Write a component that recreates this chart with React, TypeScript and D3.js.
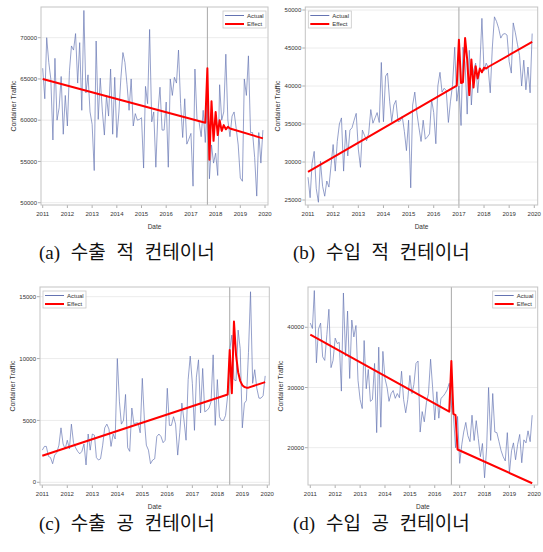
import * as d3 from "d3";

// monthly container traffic, Jan 2011 .. Dec 2019
const exportLaden = [
  66300, 62600, 70000, 67000, 65000, 57600, 67500, 60000, 61500, 65300, 58300, 63000,
  59300, 66000, 69000, 68500, 70500, 64500, 69400, 61200, 73300, 63300, 65500, 61000,
  59500, 53900, 69600, 60100, 65100, 61100, 58200, 63000, 60500, 66200, 58300, 65200,
  57900, 61000, 65000, 68200, 67000, 64300, 61200, 65000, 59300, 60800, 60000, 60100,
  60300, 54200, 64100, 62000, 71000, 59800, 61000, 54300, 61000, 64000, 58800, 58800,
  62200, 54300, 65000, 63000, 65200, 64500, 68500, 62000, 57900, 62600, 57100, 57700,
  58400, 52000, 66200, 60000, 59800, 58000, 61200, 57300, 62500, 52900, 57000, 54800,
  56000, 53300, 64300, 60000, 61000, 68000, 60000, 58000, 60500, 61000, 59000, 57000,
  53000, 52600, 65000, 63000, 67800, 58500, 58500, 55500, 50800, 58500, 54800, 58800,
];

const importLaden = [
  28000, 25300, 29800, 31400, 26500, 24700, 30100, 26800, 25500, 27500, 26700, 29500,
  32300, 28800, 32700, 35000, 35800, 28800, 34200, 30800, 34200, 34500, 35500, 36400,
  31700, 29300, 34200, 33500, 32800, 33800, 36900, 35100, 35800, 36500, 35200, 43100,
  35300, 41300, 41700, 38000, 35300, 37500, 38100, 35300, 35400, 36000, 34000, 31500,
  35500, 26600, 37500, 39200, 36500, 34500, 32700, 35500, 33000, 33300, 33700, 38200,
  36500, 32400, 40000, 41800, 39200, 39700, 39400, 35200, 38000, 40200, 45100, 38000,
  40000, 34800, 45100, 43000, 36300, 44700, 37500, 42000, 43000, 39100, 42500, 48900,
  42000, 43000, 42500, 39100, 45000, 49100, 48500, 47600, 46300, 46800, 46900, 46700,
  43200, 41700, 48300, 47000, 45500, 44000, 40000, 43400, 39500, 42500, 39100, 46900,
];

const exportEmpty = [
  2600, 2900, 2900, 2100, 2000, 1500, 2200, 2400, 3000, 4400, 3100, 2700,
  3400, 2700, 4700, 3200, 2800, 2500, 2300, 2500, 3100, 1400, 3900, 2600,
  3900, 3800, 2000, 1800, 1900, 3000, 4400, 4700, 4300, 2900, 3900, 3500,
  10000, 6500, 4700, 5000, 7100, 2800, 2500, 6000, 4700, 4800, 4800, 4000,
  8400, 5000, 3000, 2600, 1500, 1800, 1900, 3700, 3900, 3700, 3200, 3400,
  7600, 4600, 4600, 5300, 4700, 2200, 4000, 6400, 5000, 3400, 8300, 10200,
  8000, 4200, 8500, 9900, 5600, 9200, 5700, 5800, 6000, 6500, 10300, 4600,
  8300, 5300, 5000, 5000, 5400, 7000, 10700, 11900, 8300, 8200, 12300, 10800,
  4400, 6400, 6600, 10500, 15400, 8000, 9100, 7600, 6800, 6800, 7000, 8600,
];

const importEmpty = [
  40700, 39800, 46100, 34100, 39700, 40700, 35100, 34500, 38800, 43000, 33300, 34500,
  38200, 37300, 37500, 29400, 45700, 35200, 42700, 31500, 41200, 38400, 40300, 31200,
  28000, 26500, 37800, 29800, 33000, 27700, 28000, 34000, 22500, 36700, 23400, 36000,
  31500, 30000, 27700, 29000, 29500, 28200, 29000, 28300, 32700, 28000, 25800, 28000,
  32000, 29000, 30500, 34000, 34400, 22600, 26000, 24300, 27500, 29000, 34700, 30000,
  24600, 29300, 24900, 28200, 28500, 29000, 29600, 30700, 27000, 25400, 20000, 25200,
  17400, 20500, 22600, 24200, 22000, 21000, 25400, 21200, 24500, 21500, 18500, 20700,
  15000, 20000, 30000, 21200, 29000, 22600, 22500, 21000, 19500, 18500, 17800, 22500,
  15800, 19500, 20800, 18000, 20500, 22200, 17500, 21300, 20800, 22800, 21000, 25400,
];

// intervention effect, as month index (0 = Jan 2011) and value
const effectAMonths = [0, 79, 80, 81, 82, 83, 84, 85, 86, 87, 88, 89, 90, 91, 107];
const effectAValues = [65000, 59700, 66300, 55200, 62300, 57500, 61000, 58200, 60000, 58700, 59400, 58900, 59200, 59000, 57800];
const effectBMonths = [0, 71, 72, 73, 74, 75, 76, 77, 78, 79, 80, 81, 82, 83, 84, 85, 86, 107];
const effectBValues = [28700, 40050, 46100, 40400, 40500, 46300, 43500, 38800, 43500, 39800, 42600, 41000, 42300, 41800, 42400, 42300, 42500, 45800];
const effectCMonths = [0, 89, 90, 91, 92, 93, 94, 95, 96, 97, 98, 99, 107];
const effectCValues = [2150, 7100, 10700, 7200, 13000, 10300, 8900, 8200, 7850, 7700, 7650, 7650, 8100];
const effectDMonths = [0, 67, 68, 69, 70, 71, 107];
const effectDValues = [38800, 26000, 34400, 25600, 25400, 19700, 14100];

const yearTicks = [2011, 2012, 2013, 2014, 2015, 2016, 2017, 2018, 2019, 2020];
const ticksA = [50000, 55000, 60000, 65000, 70000];
const ticksB = [25000, 30000, 35000, 40000, 45000, 50000];
const ticksC = [0, 5000, 10000, 15000];
const ticksD = [20000, 30000, 40000];
const legendLabels = ["Actual", "Effect"];
const captions = ["(a) 수출 적 컨테이너", "(b) 수입 적 컨테이너", "(c) 수출 공 컨테이너", "(d) 수입 공 컨테이너"];

const font = '"Liberation Sans", Arial, sans-serif';
const actualColor = "#6473b2";
const effectColor = "#ff0000";

const monthDate = (i: number) => new Date(2011, i, 1);

interface PanelSpec {
  actual: number[];
  effMonths: number[];
  effValues: number[];
  intervention: number;
  yTicks: number[];
  yDomain: [number, number];
  yRange: [number, number];
  xRange: [number, number];
  frame: { l: number; r: number; t: number; b: number };
  legendRight: boolean;
}

const panels: PanelSpec[] = [
  {
    actual: exportLaden, effMonths: effectAMonths, effValues: effectAValues, intervention: 80,
    yTicks: ticksA, yDomain: [50000, 70000], yRange: [202.7, 37.7], xRange: [42.7, 265],
    frame: { l: 41, r: 268, t: 7, b: 205 }, legendRight: true,
  },
  {
    actual: importLaden, effMonths: effectBMonths, effValues: effectBValues, intervention: 72,
    yTicks: ticksB, yDomain: [25000, 50000], yRange: [200, 10], xRange: [308, 534.3],
    frame: { l: 305.3, r: 537.7, t: 7, b: 205 }, legendRight: false,
  },
  {
    actual: exportEmpty, effMonths: effectCMonths, effValues: effectCValues, intervention: 90,
    yTicks: ticksC, yDomain: [0, 15000], yRange: [482.3, 296.7], xRange: [42.3, 267.3],
    frame: { l: 40, r: 269.3, t: 287, b: 485 }, legendRight: false,
  },
  {
    actual: importEmpty, effMonths: effectDMonths, effValues: effectDValues, intervention: 68,
    yTicks: ticksD, yDomain: [20000, 40000], yRange: [447.7, 327.3], xRange: [310.3, 534.3],
    frame: { l: 308, r: 537.7, t: 287, b: 485 }, legendRight: true,
  },
];

function Panel({ spec }: { spec: PanelSpec }) {
  const f = spec.frame;
  const x = d3.scaleTime().domain([monthDate(0), monthDate(108)]).range(spec.xRange);
  const y = d3.scaleLinear().domain(spec.yDomain).range(spec.yRange);
  const actualPath = d3.line<number>().x((_, i) => x(monthDate(i))).y((d) => y(d))(spec.actual) ?? "";
  const effectPath =
    d3.line<number>().x((_, i) => x(monthDate(spec.effMonths[i]))).y((d) => y(d))(spec.effValues) ?? "";
  const ix = x(monthDate(spec.intervention));

  const lw = 43;
  const lx = spec.legendRight ? f.r - 2 - lw : f.l + 3;
  const ly = f.t + 4;

  return (
    <g>
      <rect x={f.l} y={f.t} width={f.r - f.l} height={f.b - f.t} fill="#fff" />
      {spec.yTicks.map((t) => (
        <g key={t}>
          <line x1={f.l} x2={f.r} y1={y(t)} y2={y(t)} stroke="#ececec" strokeWidth={1} />
          <line x1={f.l - 3} x2={f.l} y1={y(t)} y2={y(t)} stroke="#9a9a9a" strokeWidth={0.8} />
          <text x={f.l - 4} y={y(t) + 2.1} textAnchor="end" fontSize={6} fill="#333" fontFamily={font}>
            {t}
          </text>
        </g>
      ))}
      {yearTicks.map((yr) => {
        const px = x(new Date(yr, 0, 1));
        return (
          <g key={yr}>
            <line x1={px} x2={px} y1={f.b} y2={f.b + 3} stroke="#9a9a9a" strokeWidth={0.8} />
            <text x={px} y={f.b + 10.5} textAnchor="middle" fontSize={6} fill="#333" fontFamily={font}>
              {yr}
            </text>
          </g>
        );
      })}
      <line x1={ix} x2={ix} y1={f.t} y2={f.b} stroke="#a8a8a8" strokeWidth={1} />
      <path d={actualPath} fill="none" stroke={actualColor} strokeWidth={0.8} strokeOpacity={0.85} />
      <path d={effectPath} fill="none" stroke={effectColor} strokeWidth={2} strokeLinejoin="round" />
      <rect x={f.l} y={f.t} width={f.r - f.l} height={f.b - f.t} fill="none" stroke="#c4c4c4" strokeWidth={1} />

      <g transform={`translate(${lx},${ly})`}>
        <rect x={0} y={0} width={lw} height={17} fill="#fff" stroke="#c8c8c8" strokeWidth={0.8} />
        {legendLabels.map((label, i) => (
          <g key={label} transform={`translate(0,${4.5 + i * 8.5})`}>
            <line
              x1={2}
              x2={21}
              y1={0}
              y2={0}
              stroke={i === 0 ? actualColor : effectColor}
              strokeWidth={i === 0 ? 1 : 2}
            />
            <text x={24} y={2} fontSize={6} fill="#333" fontFamily={font}>
              {label}
            </text>
          </g>
        ))}
      </g>

      <text x={(f.l + f.r) / 2} y={f.b + 24} textAnchor="middle" fontSize={6.5} fill="#333" fontFamily={font}>
        Date
      </text>
      <text
        transform={`translate(${f.l - 25},${(f.t + f.b) / 2}) rotate(-90)`}
        textAnchor="middle"
        fontSize={7}
        fill="#333"
        fontFamily={font}
      >
        Container Traffic
      </text>
    </g>
  );
}

const captionPos = [
  { x: 39, y: 258.5 },
  { x: 293, y: 258.5 },
  { x: 39, y: 530 },
  { x: 293, y: 530 },
];

export default function App() {
  return (
    <svg
      width={543}
      height={552}
      viewBox="0 0 543 552"
      style={{ position: "absolute", left: 0, top: 0, background: "#fff" }}
    >
      <rect x={0} y={0} width={543} height={552} fill="#fff" />
      {panels.map((p, i) => (
        <Panel key={i} spec={p} />
      ))}
      {captions.map((c, i) => (
        <text
          key={c}
          x={captionPos[i].x}
          y={captionPos[i].y}
          fontSize={19}
          wordSpacing={6}
          fill="#111"
          fontFamily='"Liberation Serif", "Noto Sans CJK KR", serif'
        >
          {c}
        </text>
      ))}
    </svg>
  );
}
